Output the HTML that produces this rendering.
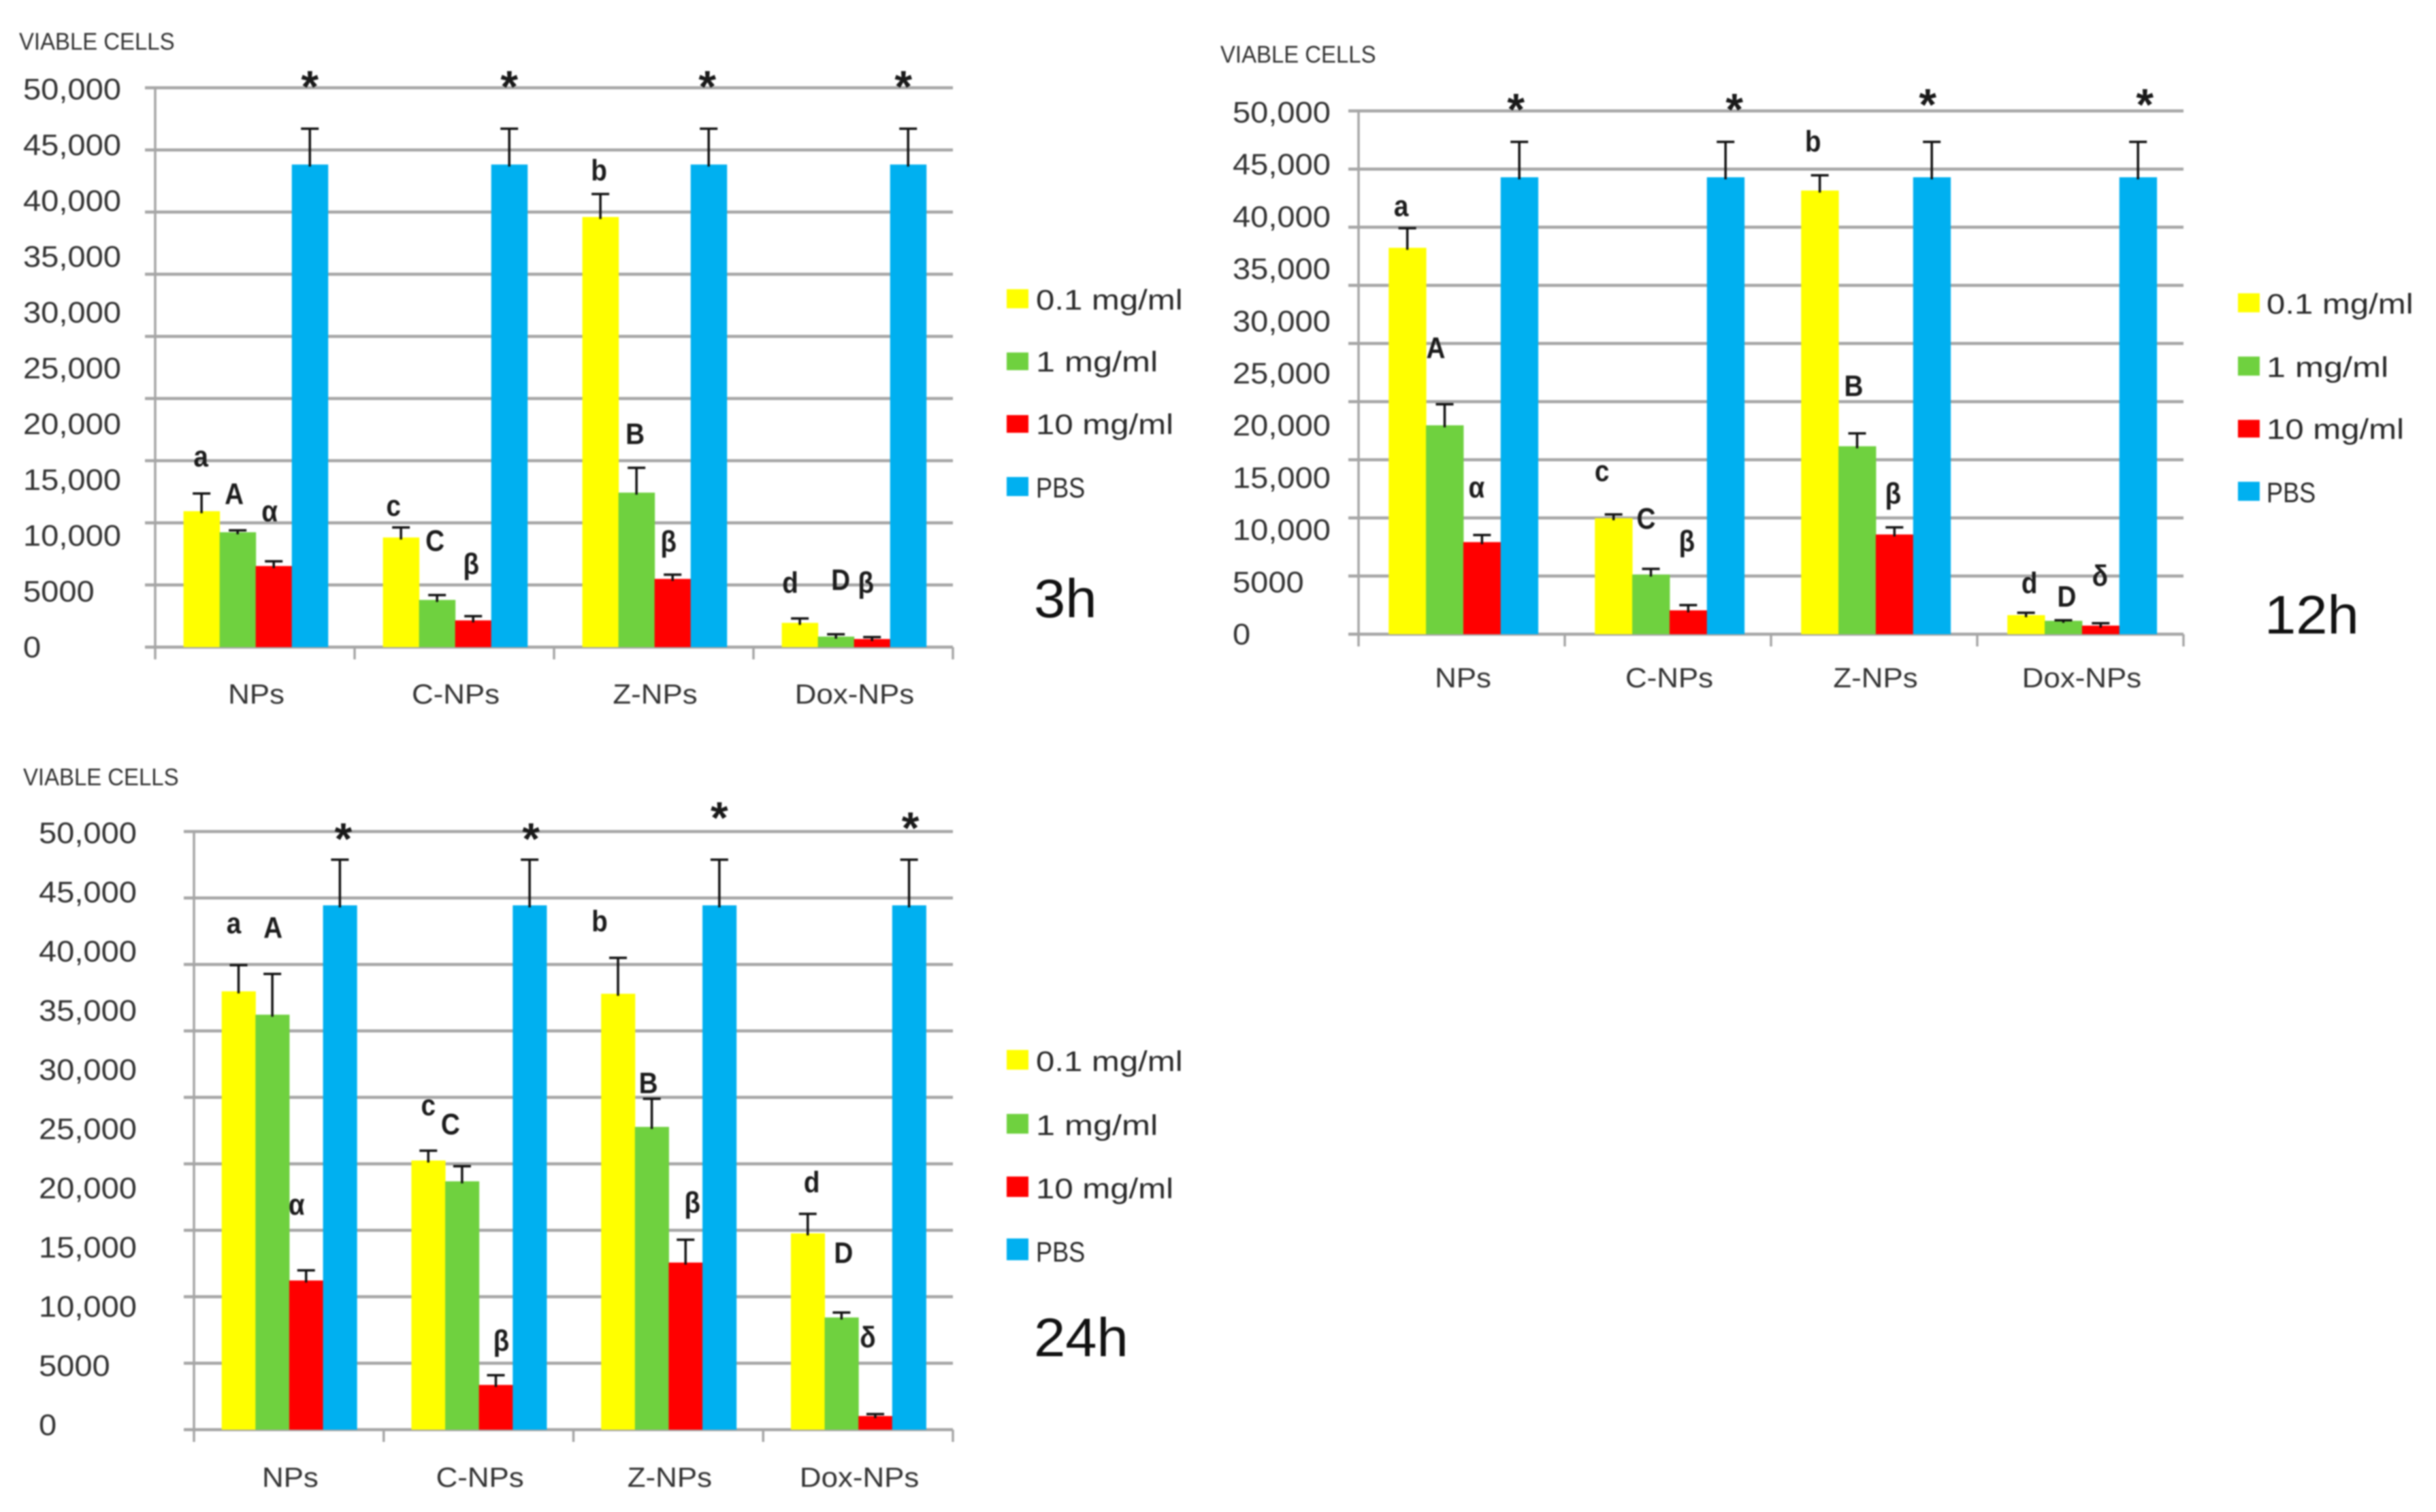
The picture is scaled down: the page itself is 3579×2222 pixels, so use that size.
<!DOCTYPE html>
<html lang="en">
<head>
<meta charset="utf-8">
<title>Viable cells at 3h, 12h and 24h</title>
<style>
html,body{margin:0;padding:0;background:#fff;}
#figure{display:block;width:3579px;height:2222px;filter:blur(1.1px);}
text{font-family:"Liberation Sans",sans-serif;}
</style>
</head>
<body>
<svg id="figure" xmlns="http://www.w3.org/2000/svg" width="3579" height="2222" viewBox="0 0 3579 2222"></svg>
<script>
const categories = ["NPs", "C-NPs", "Z-NPs", "Dox-NPs"];
const seriesNames = ["0.1 mg/ml", "1 mg/ml", "10 mg/ml", "PBS"];
const seriesColors = ["#ffff00", "#6fd13f", "#ff0000", "#00b0f0"];
const tickLabels = ["0", "5000", "10,000", "15,000", "20,000", "25,000", "30,000", "35,000", "40,000", "45,000", "50,000"];
const axisMax = 50000;
const gridLineCount = 10;

const low3h = [12150, 9800, 38450, 2170];
const mid3h = [10270, 4220, 13810, 940];
const high3h = [7250, 2390, 6100, 725];
const pbs3h = [43140, 43140, 43140, 43140];
const lowErr3h = [1580, 900, 2050, 390];
const midErr3h = [170, 430, 2220, 210];
const highErr3h = [420, 380, 380, 175];
const pbsErr3h = [3200, 3200, 3200, 3200];

const low12h = [36920, 11080, 42390, 1820];
const mid12h = [19960, 5700, 17960, 1280];
const high12h = [8800, 2280, 9530, 820];
const pbs12h = [43660, 43660, 43660, 43660];
const lowErr12h = [1870, 360, 1460, 230];
const midErr12h = [2010, 540, 1230, 50];
const highErr12h = [680, 500, 680, 230];
const pbsErr12h = [3380, 3380, 3380, 3380];

const low24h = [36640, 22500, 36440, 16410];
const mid24h = [34690, 20760, 25310, 9380];
const high24h = [12470, 3740, 13970, 1140];
const pbs24h = [43830, 43830, 43830, 43830];
const lowErr24h = [2190, 820, 3000, 1630];
const midErr24h = [3410, 1260, 2350, 410];
const highErr24h = [850, 810, 1910, 160];
const pbsErr24h = [3820, 3820, 3820, 3820];

const letters3h = [["a", "A", "α"], ["c", "C", "β"], ["b", "B", "β"], ["d", "D", "β"]];
const letters12h = [["a", "A", "α"], ["c", "C", "β"], ["b", "B", "β"], ["d", "D", "δ"]];
const letters24h = [["a", "A", "α"], ["c", "C", "β"], ["b", "B", "β"], ["d", "D", "δ"]];

/* Layout only (pixels): where each panel and its hand-placed annotations sit. */
const legendStretch = [1.17, 1.2, 1.17, 0.86];
const panels = [
  { key: "3h", title: "3h", left: 228, right: 1400, top: 129, base: 951, labelX: 34, labelTop: 131, labelBase: 951,
    barStart: 0.142, barWidth: 0.181, headX: 28, headY: 73, catY: 1034, legendX: 1479, legendTextX: 1522,
    legendY: [425, 518, 610, 701], legendH: [28, 26, 26, 28], timeX: 1519, timeY: 907,
    values: [low3h, mid3h, high3h, pbs3h], errors: [lowErr3h, midErr3h, highErr3h, pbsErr3h], letters: letters3h,
    letterNudge: [[[-1, -55], [-5, -54], [-6, -74]], [[-11, -32], [-3, -80], [-3, -77]], [[-2, -35], [-2, -50], [-6, -49]], [[-14, -53], [7, -80], [-9, -80]]],
    starNudge: [[0, -69], [0, -69], [-2, -69], [-7, -69]] },
  { key: "12h", title: "12h", left: 1996, right: 3208, top: 163, base: 932, labelX: 1811, labelTop: 165, labelBase: 932,
    barStart: 0.146, barWidth: 0.181, headX: 1793, headY: 92, catY: 1010, legendX: 3288, legendTextX: 3330,
    legendY: [431, 524, 617, 708], legendH: [28, 28, 26, 28], timeX: 3327, timeY: 931,
    values: [low12h, mid12h, high12h, pbs12h], errors: [lowErr12h, midErr12h, highErr12h, pbsErr12h], letters: letters12h,
    letterNudge: [[[-9, -33], [-13, -83], [-8, -70]], [[-17, -64], [-7, -74], [-2, -94]], [[-10, -50], [-5, -70], [-2, -50]], [[5, -44], [5, -35], [-1, -70]]],
    starNudge: [[-5, -55], [13, -55], [-6, -62], [10, -62]] },
  { key: "24h", title: "24h", left: 285, right: 1400, top: 1222, base: 2101, labelX: 57, labelTop: 1224, labelBase: 2094,
    barStart: 0.146, barWidth: 0.178, headX: 34, headY: 1154, catY: 2185, legendX: 1479, legendTextX: 1522,
    legendY: [1543, 1637, 1729, 1820], legendH: [29, 29, 30, 32], timeX: 1519, timeY: 1993,
    values: [low24h, mid24h, high24h, pbs24h], errors: [lowErr24h, midErr24h, highErr24h, pbsErr24h], letters: letters24h,
    letterNudge: [[[-7, -62], [1, -68], [-14, -97]], [[0, -67], [-17, -62], [8, -51]], [[-27, -54], [-5, -23], [10, -55]], [[6, -47], [3, -88], [-11, -113]]],
    starNudge: [[5, -38], [2, -38], [0, -69], [2, -54]] }
];

const SVG_NS = "http://www.w3.org/2000/svg";
const root = document.getElementById("figure");

function make(parent, tag, attrs, content) {
  const el = document.createElementNS(SVG_NS, tag);
  Object.keys(attrs).forEach(function (k) { el.setAttribute(k, attrs[k]); });
  if (content !== undefined) el.textContent = content;
  parent.appendChild(el);
  return el;
}

function textAttrs(x, y, size, color, sx, weight, family) {
  const a = { transform: "translate(" + x + " " + y + ") scale(" + sx + " 1)", "font-size": size, fill: color };
  if (weight) a["font-weight"] = weight;
  if (family) a["font-family"] = family;
  return a;
}

panels.forEach(function (p) {
  const yScale = function (v) { return p.base - (v / axisMax) * (p.base - p.top); };
  const labelScale = function (i) { return p.labelBase - (i / (tickLabels.length - 1)) * (p.labelBase - p.labelTop); };
  const band = (p.right - p.left) / categories.length;
  const bw = band * p.barWidth;
  const xScale = function (g, s) { return p.left + g * band + band * p.barStart + s * bw; };

  const chart = make(root, "g", {});
  
  

  const head = make(chart, "text", textAttrs(p.headX, p.headY, 35, "#333", 0.94), "VIABLE CELLS");
  
  

  for (let i = 0; i < gridLineCount; i++) {
    const gy = p.base - (i / (gridLineCount - 1)) * (p.base - p.top);
    const grid = make(chart, "line", { x1: p.left - 15, x2: p.right, y1: gy, y2: gy, stroke: "#a6a6a6", "stroke-width": 4.5 });
    
    
  }

  const axisY = make(chart, "line", { x1: p.left, x2: p.left, y1: p.top, y2: p.base + 18, stroke: "#a6a6a6", "stroke-width": 3.5 });
  
  

  for (let g = 1; g <= categories.length; g++) {
    const tx = p.left + g * band;
    const tick = make(chart, "line", { x1: tx, x2: tx, y1: p.base, y2: p.base + 18, stroke: "#a6a6a6", "stroke-width": 3.5 });
    
    
  }

  tickLabels.forEach(function (label, i) {
    const t = make(chart, "text", textAttrs(p.labelX, labelScale(i) + 15, 44, "#333", 1.07), label);
    
    
  });

  categories.forEach(function (cat, g) {
    const c = make(chart, "text", textAttrs(p.left + (g + 0.5) * band + 2, p.catY, 41, "#333", 1.07), cat);
    c.setAttribute("text-anchor", "middle");
    
    
  });

  p.values.forEach(function (vals, s) {
    vals.forEach(function (v, g) {
      const bar = make(chart, "rect", { x: xScale(g, s), y: yScale(v), width: bw + 0.5, height: p.base - yScale(v), fill: seriesColors[s] });
      
      
    });
  });

  p.errors.forEach(function (errs, s) {
    errs.forEach(function (e, g) {
      const cx = xScale(g, s) + bw / 2;
      const val = p.values[s][g];
      const topY = yScale(val + e);
      const stem = make(chart, "line", { x1: cx, x2: cx, y1: yScale(val) + 3, y2: topY, stroke: "#111", "stroke-width": 3.5 });
      
      
      const cap = make(chart, "line", { x1: cx - 13, x2: cx + 13, y1: topY, y2: topY, stroke: "#111", "stroke-width": 3.5 });
      
      
    });
  });

  p.letters.forEach(function (row, g) {
    row.forEach(function (letter, s) {
      const cx = xScale(g, s) + bw / 2 + p.letterNudge[g][s][0];
      const cy = yScale(p.values[s][g] + p.errors[s][g]) + p.letterNudge[g][s][1];
      const mark = make(chart, "text", textAttrs(cx, cy + 15, 44, "#1c1c1c", 0.88, "bold"), letter);
      mark.setAttribute("text-anchor", "middle");
      
      
    });
  });

  p.values[3].forEach(function (v, g) {
    const cx = xScale(g, 3) + bw / 2 + p.starNudge[g][0];
    const cy = yScale(v + p.errors[3][g]) + p.starNudge[g][1];
    const star = make(chart, "text", { x: cx, y: cy + 30, "font-size": 66, "font-weight": "bold", "font-family": '"DejaVu Sans",sans-serif', fill: "#1a1a1a", "text-anchor": "middle" }, "*");
    
    
  });

  seriesNames.forEach(function (name, s) {
    const swatch = make(chart, "rect", { x: p.legendX, y: p.legendY[s], width: 32, height: p.legendH[s], fill: seriesColors[s] });
    
    
    const label = make(chart, "text", textAttrs(p.legendTextX, p.legendY[s] + p.legendH[s] + 2, 42, "#2a2a2a", legendStretch[s]), name);
    
    
  });

  const timeLabel = make(chart, "text", textAttrs(p.timeX, p.timeY, 80, "#111", 1.04), p.title);
  
  
});
</script>
</body>
</html>
